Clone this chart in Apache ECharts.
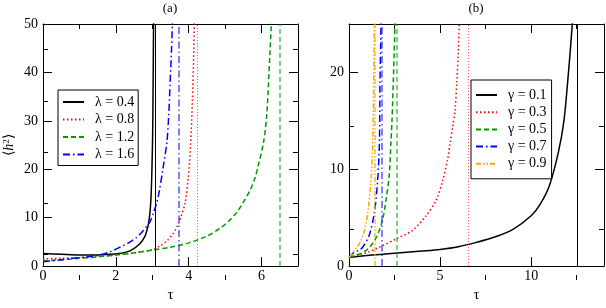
<!DOCTYPE html>
<html><head><meta charset="utf-8">
<script src="https://cdn.jsdelivr.net/npm/echarts@6/dist/echarts.min.js"></script>
<style>html,body{margin:0;padding:0;background:#fff}#c{width:606px;height:308px}</style>
</head><body><div id="c"></div>
<script>
// ---- Panel (a) data: tau vs <h^2> for several lambda ----
const lamNames = ['λ = 0.4', 'λ = 0.8', 'λ = 1.2', 'λ = 1.6'];
const lam04 = [[0,2.6],[0.5,2.45],[1.0,2.3],[1.5,2.3],[1.75,2.4],[2.1,2.6],[2.4,3.2],[2.66,4.6],[2.8,6.2],[2.85,7.3],[2.9,9],[2.94,11.3],[2.97,15],[2.99,20],[3.01,27],[3.02,35],[3.035,50],[3.04,60]];
const lam08 = [[0,1.5],[0.5,1.6],[1.0,1.75],[1.5,2.0],[2.0,2.3],[2.5,2.7],[3.0,3.4],[3.2,4.1],[3.4,5.2],[3.58,6.8],[3.7,8.5],[3.8,10.5],[3.9,13],[3.99,18.5],[4.05,25],[4.1,34],[4.14,45],[4.16,55]];
const lam12 = [[0,1.1],[0.5,1.3],[1.0,1.6],[1.5,1.9],[2.0,2.3],[2.5,2.75],[3.0,3.3],[3.5,3.9],[4.0,4.8],[4.5,6.2],[4.86,7.8],[5.1,9.3],[5.32,11.1],[5.5,13.2],[5.68,15.6],[5.82,18.2],[5.91,20.8],[6.05,25.4],[6.14,31],[6.23,44],[6.28,52]];
const lam16 = [[0,0.9],[0.4,1.2],[0.83,1.6],[1.2,1.9],[1.56,2.3],[1.85,3.0],[2.11,3.9],[2.35,4.8],[2.57,5.9],[2.75,7.3],[2.94,9.2],[3.03,11],[3.12,13],[3.2,15.8],[3.3,20.5],[3.4,25.5],[3.45,31],[3.49,38],[3.53,45],[3.56,52]];
const lamAsym = [3.07, 4.24, 6.5, 3.73];

// ---- Panel (b) data: tau vs <h^2> for several gamma ----
const gamNames = ['γ = 0.1', 'γ = 0.3', 'γ = 0.5', 'γ = 0.7', 'γ = 0.9'];
const g01 = [[0,0.9],[1,1.1],[2,1.25],[3,1.4],[4,1.55],[5,1.72],[6,2.0],[7,2.45],[8,3.0],[9,3.8],[10,5.2],[10.5,6.4],[11,8.3],[11.5,11.8],[11.8,15],[12.05,20],[12.2,23.5],[12.3,26]];
const g03 = [[0,0.9],[0.5,1.15],[1,1.4],[1.67,1.95],[2.58,2.8],[3.5,3.7],[4.23,5.2],[4.78,6.8],[5.14,8.8],[5.42,11.1],[5.55,12.7],[5.7,14.5],[5.82,16],[5.92,19],[6.0,22],[6.06,25.5]];
const g05 = [[0,0.9],[0.5,1.2],[0.93,1.6],[1.2,2.1],[1.48,2.9],[1.76,4.2],[1.9,5.3],[2.03,6.8],[2.21,9.4],[2.3,12.7],[2.36,15],[2.43,18.9],[2.48,22],[2.53,25.5]];
const g07 = [[0,0.9],[0.2,1.3],[0.5,1.6],[0.75,1.95],[1.12,3.25],[1.39,5.5],[1.57,8.8],[1.67,12.7],[1.70,18.9],[1.74,23],[1.76,25.5]];
const g09 = [[0,0.9],[0.2,1.3],[0.4,1.9],[0.57,2.3],[0.84,3.6],[1.03,5.5],[1.21,8.8],[1.30,12.7],[1.35,18],[1.39,25.5]];
const gamAsym = [12.55, 6.52, 2.62, 1.79, 1.43];

// ---- axis ticks ----
const axA_xMajor = [0, 2, 4, 6], axA_xMinor = [1, 3, 5];
const axA_yMajor = [0, 10, 20, 30, 40, 50], axA_yMinor = [5, 15, 25, 35, 45];
const axB_xMajor = [0, 5, 10], axB_xMinor = [2.5, 7.5, 12.5];
const axB_yMajor = [0, 10, 20], axB_yMinor = [5, 15, 25];

const FONT = '"Liberation Serif", "Times New Roman", Times, serif';
const styles = [
  {color: '#000000', type: 'solid', width: 1.5},
  {color: '#ff0000', type: [1.5, 2.5], width: 1.5},
  {color: '#009a00', type: [5, 3], width: 1.5},
  {color: '#0000ff', type: [7, 3, 1.5, 3], width: 1.5},
  {color: '#ffa500', type: [5, 2, 1.5, 2, 1.5, 2], width: 1.5}
];
const asymStyles = [
  {color: '#000000', type: 'solid', width: 1, opacity: 1},
  {color: '#ff0000', type: [1, 2], width: 1, opacity: 0.7},
  {color: '#00a000', type: [5, 3], width: 2, opacity: 0.5},
  {color: '#0000ff', type: [7, 3, 1.5, 3], width: 2, opacity: 0.5},
  {color: '#ffa500', type: [5, 2, 1.5, 2, 1.5, 2], width: 2, opacity: 0.6}
];

function xAx(grid, pos, min, max, ticks, len, labels, line) {
  return {type: 'value', gridIndex: grid, position: pos, min: min, max: max,
    axisLine: {show: line, onZero: false, lineStyle: {color: '#000', width: 1}},
    axisTick: {show: true, inside: true, length: len, customValues: ticks, lineStyle: {color: '#000', width: 1}},
    axisLabel: {show: labels, customValues: ticks, color: '#000', fontFamily: FONT, fontSize: 14, margin: 3},
    splitLine: {show: false}};
}
function yAx(grid, pos, min, max, ticks, len, labels, line) {
  return {type: 'value', gridIndex: grid, position: pos, min: min, max: max,
    axisLine: {show: line, onZero: false, lineStyle: {color: '#000', width: 1}},
    axisTick: {show: true, inside: true, length: len, customValues: ticks, lineStyle: {color: '#000', width: 1}},
    axisLabel: {show: labels, customValues: ticks, color: '#000', fontFamily: FONT, fontSize: 14, margin: 5},
    splitLine: {show: false}};
}

const xAxes = [
  xAx(0, 'bottom', 0, 7, axA_xMajor, 9, true, true),
  xAx(0, 'top', 0, 7, axA_xMajor, 9, false, true),
  xAx(1, 'bottom', 0, 14, axB_xMajor, 9, true, true),
  xAx(1, 'top', 0, 14, axB_xMajor, 9, false, true),
  xAx(2, 'bottom', 0, 7, axA_xMinor, 5, false, false),
  xAx(2, 'top', 0, 7, axA_xMinor, 5, false, false),
  xAx(3, 'bottom', 0, 14, axB_xMinor, 5, false, false),
  xAx(3, 'top', 0, 14, axB_xMinor, 5, false, false)
];
[0, 2].forEach(i => {
  xAxes[i].name = 'τ'; xAxes[i].nameLocation = 'middle'; xAxes[i].nameGap = 18;
  xAxes[i].nameTextStyle = {fontFamily: FONT, fontSize: 15, color: '#000'};
});

const yAxes = [
  yAx(0, 'left', 0, 50, axA_yMajor, 9, true, true),
  yAx(0, 'right', 0, 50, axA_yMajor, 9, false, true),
  yAx(1, 'left', 0, 25, axB_yMajor, 9, true, true),
  yAx(1, 'right', 0, 25, axB_yMajor, 9, false, true),
  yAx(2, 'left', 0, 50, axA_yMinor, 5, false, false),
  yAx(2, 'right', 0, 50, axA_yMinor, 5, false, false),
  yAx(3, 'left', 0, 25, axB_yMinor, 5, false, false),
  yAx(3, 'right', 0, 25, axB_yMinor, 5, false, false)
];
yAxes[0].name = '{n|⟨}{h|h}{s|2}{n|⟩}';
yAxes[0].nameLocation = 'middle'; yAxes[0].nameGap = 26; yAxes[0].nameRotate = 90;
yAxes[0].nameTextStyle = {fontFamily: FONT, fontSize: 14, color: '#000', rich: {
  n: {fontFamily: FONT, fontSize: 14, color: '#000'},
  h: {fontFamily: FONT, fontSize: 14, fontStyle: 'italic', color: '#000'},
  s: {fontFamily: FONT, fontSize: 9, color: '#000', verticalAlign: 'top', padding: [0, 0, 6, 0]}
}};

function mkSeries(name, data, st, asym, ast, xi, yi) {
  return {name: name, type: 'line', data: data, xAxisIndex: xi, yAxisIndex: yi,
    showSymbol: false, symbol: 'none', smooth: 0.3, clip: true,
    lineStyle: {color: st.color, type: st.type, width: st.width},
    itemStyle: {color: st.color},
    markLine: {silent: true, symbol: ['none', 'none'], label: {show: false},
      lineStyle: {color: ast.color, type: ast.type, width: ast.width, opacity: ast.opacity},
      data: [{xAxis: asym}], animation: false},
    animation: false};
}

const lamData = [lam04, lam08, lam12, lam16];
const gamData = [g01, g03, g05, g07, g09];
const series = [];
lamData.forEach((d, i) => series.push(mkSeries(lamNames[i], d, styles[i], lamAsym[i], asymStyles[i], 0, 0)));
gamData.forEach((d, i) => series.push(mkSeries(gamNames[i], d, styles[i], gamAsym[i], asymStyles[i], 2, 2)));

const legendBase = {orient: 'vertical', itemWidth: 21, itemHeight: 12,
  borderColor: '#000', borderWidth: 1, backgroundColor: '#fff', borderRadius: 0,
  itemStyle: {opacity: 0},
  textStyle: {fontFamily: FONT, fontSize: 14, color: '#000', padding: [0, 0, 0, 6]},
  selectedMode: false};

const option = {
  animation: false,
  backgroundColor: '#fff',
  grid: [
    {left: 43, top: 24, width: 255, height: 256},
    {left: 349, top: 24, width: 255, height: 256},
    {left: 43, top: 24, width: 255, height: 256},
    {left: 349, top: 24, width: 255, height: 256}
  ],
  xAxis: xAxes,
  yAxis: yAxes,
  legend: [
    Object.assign({}, legendBase, {data: lamNames, left: 58, top: 90, padding: [5, 4, 4, 4], itemGap: 3.5}),
    Object.assign({}, legendBase, {data: gamNames, left: 471, top: 80, padding: [8, 5, 8, 4], itemGap: 3.2})
  ],
  graphic: [
    {type: 'text', x: 170, y: 9, style: {text: '(a)', font: '13px "Liberation Serif", "Times New Roman", serif', fill: '#000', textAlign: 'center', textVerticalAlign: 'middle'}},
    {type: 'text', x: 476, y: 9, style: {text: '(b)', font: '13px "Liberation Serif", "Times New Roman", serif', fill: '#000', textAlign: 'center', textVerticalAlign: 'middle'}}
  ],
  series: series
};
const chart = echarts.init(document.getElementById('c'), null, {renderer: 'canvas'});
chart.setOption(option);
</script></body></html>
